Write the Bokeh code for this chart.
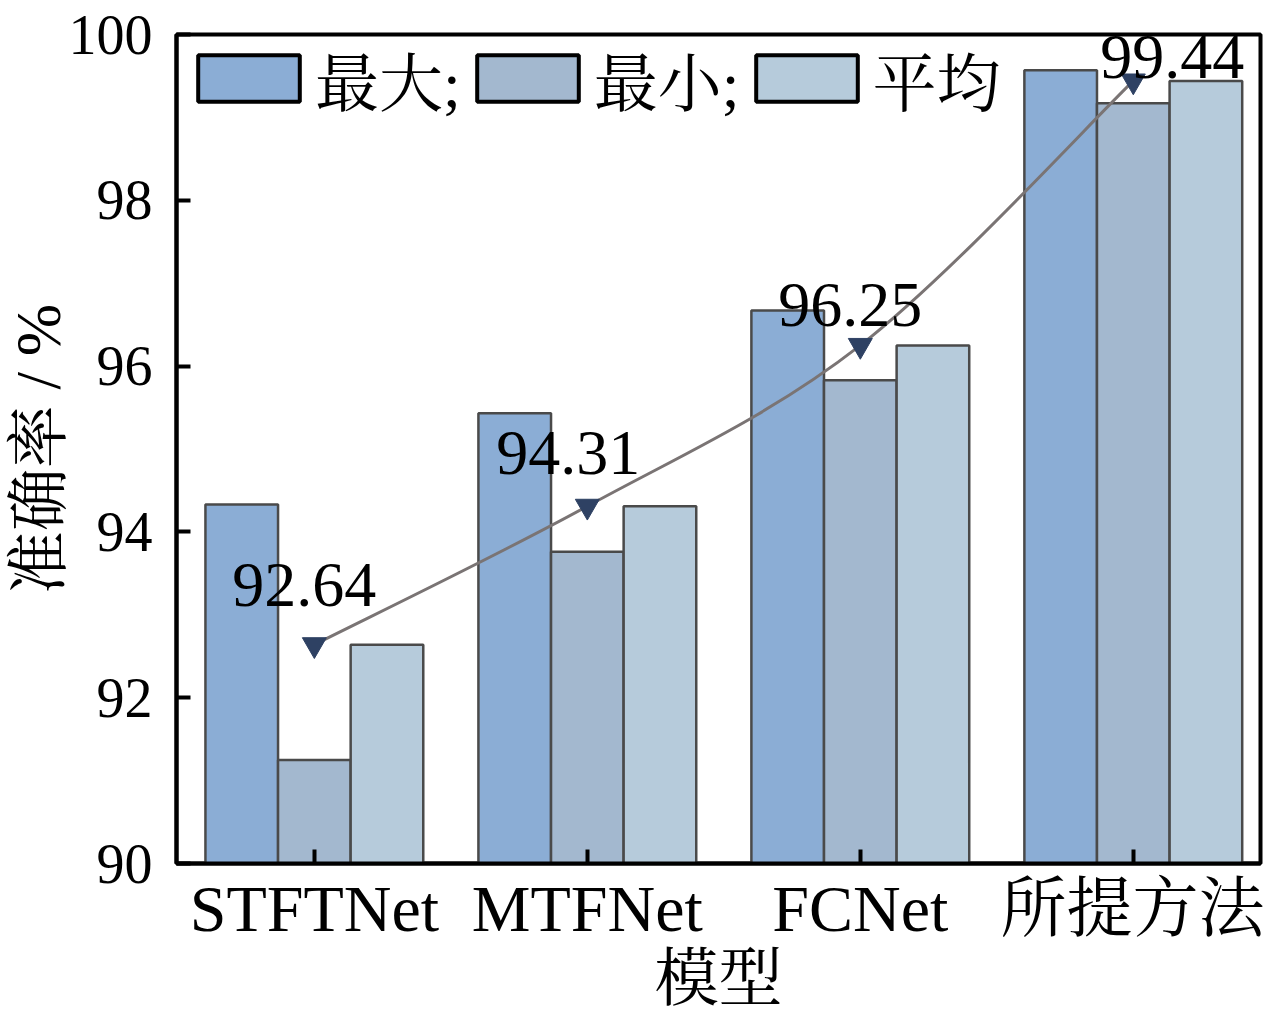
from bokeh.plotting import figure
from bokeh.models import ColumnDataSource, FixedTicker, Legend, LegendItem
from bokeh.embed import file_html
from bokeh.resources import INLINE

# ---- data ----
models = ["STFTNet", "MTFNet", "FCNet", "所提方法"]
acc_max = [94.33, 95.43, 96.67, 99.57]
acc_min = [91.25, 93.76, 95.83, 99.17]
acc_avg = [92.64, 94.31, 96.25, 99.44]
avg_labels = ["92.64", "94.31", "96.25", "99.44"]
series_names = ["最大;", "最小;", "平均"]
y_ticks = [90, 92, 94, 96, 98, 100]

# ---- style ----
FONT = "Liberation Serif, Noto Serif CJK SC, Noto Sans CJK SC, serif"
colors = ["#8badd5", "#a3b8cf", "#b6cbdb"]
edge = "#4a4a4a"
bar_w = 0.266
offsets = [-bar_w, 0.0, bar_w]
label_dx = [-10, -19, -10, 39]
label_dy = [-60, -53, -40, -24]

xs = list(range(len(models)))

p = figure(width=1264, height=1016, x_range=(-0.505, 3.466), y_range=(90, 100),
           output_backend="svg", toolbar_location=None,
           min_border_left=176, min_border_right=4, min_border_top=34, min_border_bottom=10)
p.background_fill_color = "white"
p.border_fill_color = "white"
p.grid.visible = False
p.outline_line_color = "black"
p.outline_line_width = 4

series = [acc_max, acc_min, acc_avg]
for vals, off, col in zip(series, offsets, colors):
    src = ColumnDataSource(dict(x=[x + off for x in xs], top=vals))
    p.vbar(x="x", top="top", bottom=90, width=bar_w, source=src,
           fill_color=col, line_color=edge, line_width=2.5)

# legend proxies (black outlined boxes), placed outside the visible range
items = []
for name, col in zip(series_names, colors):
    r = p.vbar(x=[-10], top=[90], bottom=90, width=bar_w, fill_color=col,
               line_color="black", line_width=4)
    items.append(LegendItem(label=name, renderers=[r]))
leg = Legend(items=items, orientation="horizontal", location=(-3, 727),
             margin=0, padding=12, spacing=3, label_standoff=3,
             glyph_width=127, glyph_height=58,
             label_text_font=FONT, label_text_font_size="64px",
             label_text_color="black",
             background_fill_alpha=0, border_line_alpha=0)
p.add_layout(leg)

# smooth curve through averages (Catmull-Rom -> cubic bezier)
pts = list(zip(xs, acc_avg))
n = len(pts)
bx0, by0, bx1, by1, cx0, cy0, cx1, cy1 = [], [], [], [], [], [], [], []
for i in range(n - 1):
    p0 = pts[max(i - 1, 0)]
    p1 = pts[i]
    p2 = pts[i + 1]
    p3 = pts[min(i + 2, n - 1)]
    bx0.append(p1[0]); by0.append(p1[1])
    bx1.append(p2[0]); by1.append(p2[1])
    cx0.append(p1[0] + (p2[0] - p0[0]) / 6); cy0.append(p1[1] + (p2[1] - p0[1]) / 6)
    cx1.append(p2[0] - (p3[0] - p1[0]) / 6); cy1.append(p2[1] - (p3[1] - p1[1]) / 6)
p.bezier(x0=bx0, y0=by0, x1=bx1, y1=by1, cx0=cx0, cy0=cy0, cx1=cx1, cy1=cy1,
         line_color="#7a7474", line_width=3)

msrc = ColumnDataSource(dict(x=xs, y=acc_avg, t=avg_labels, dx=label_dx, dy=label_dy))
p.scatter(x="x", y="y", source=msrc, marker="inverted_triangle", size=24,
          fill_color="#2e4163", line_color="#2e4163")
p.text(x="x", y="y", text="t", source=msrc, x_offset="dx", y_offset="dy",
       text_align="center", text_baseline="alphabetic",
       text_font_size="64px", text_color="black",
       text_font={"value": FONT})

# axes
yax = p.yaxis[0]
yax.ticker = FixedTicker(ticks=y_ticks)
yax.minor_tick_line_color = None
yax.major_tick_in = 14
yax.major_tick_out = 0
yax.major_tick_line_width = 4
yax.major_tick_line_color = "black"
yax.axis_line_width = 4
yax.axis_line_color = "black"
yax.major_label_text_font = FONT
yax.major_label_text_font_size = "56px"
yax.major_label_text_color = "black"
yax.major_label_standoff = 24
yax.axis_label = "准确率 / %"
yax.axis_label_text_font = FONT
yax.axis_label_text_font_size = "63px"
yax.axis_label_text_font_style = "normal"
yax.axis_label_text_color = "black"
yax.axis_label_standoff = -8

xax = p.xaxis[0]
xax.ticker = FixedTicker(ticks=xs)
xax.major_label_overrides = {i: m for i, m in enumerate(models)}
xax.minor_tick_line_color = None
xax.major_tick_in = 14
xax.major_tick_out = 0
xax.major_tick_line_width = 4
xax.major_tick_line_color = "black"
xax.axis_line_width = 4
xax.axis_line_color = "black"
xax.major_label_text_font = FONT
xax.major_label_text_font_size = "66px"
xax.major_label_text_color = "black"
xax.major_label_standoff = 8
xax.axis_label = "模型"
xax.axis_label_text_font = FONT
xax.axis_label_text_font_size = "64px"
xax.axis_label_text_font_style = "normal"
xax.axis_label_text_color = "black"
xax.axis_label_standoff = -5

open("out.html", "w").write(file_html(p, INLINE))
